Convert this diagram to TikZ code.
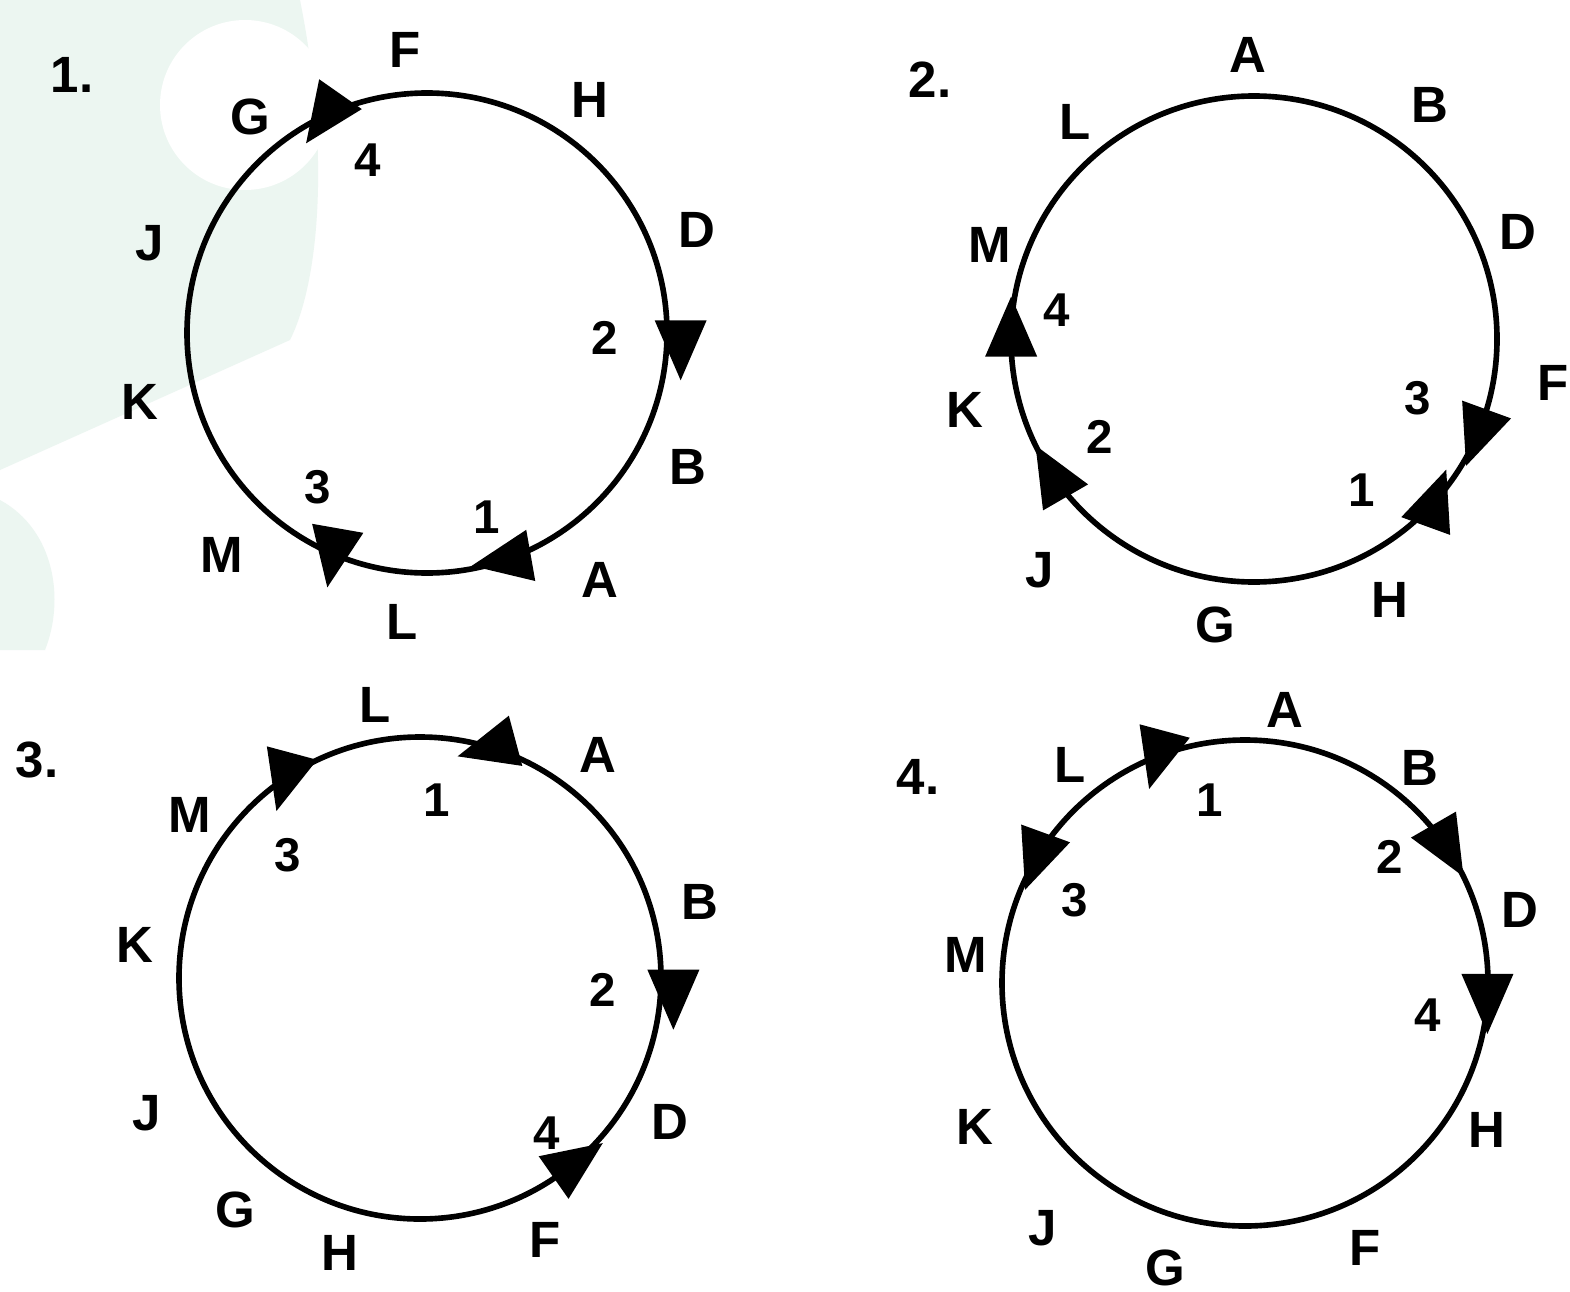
\documentclass[tikz,border=0pt]{standalone}
\usepackage{fontspec}
\setmainfont{Liberation Sans}
\usetikzlibrary{calc}
\definecolor{mint}{HTML}{ECF6F1}
\tikzset{
  lbl/.style={font=\fontsize{14.5}{16}\selectfont\bfseries, inner sep=0pt},
  num/.style={font=\fontsize{13.5}{15}\selectfont\bfseries, inner sep=0pt},
  ring/.style={line width=1.6pt},
  headfill/.style={fill=black}
}
\newcommand{\ahead}[4]{%
  \pgfmathsetmacro{\ahA}{-(#3)}%
  \pgfmathsetmacro{\ahF}{-(#4)}%
  \pgfmathsetmacro{\ahB}{-(#4)+180}%
  \pgfmathsetmacro{\ahL}{-(#4)+90}%
  \pgfmathsetmacro{\ahR}{-(#4)-90}%
  \coordinate (tmp) at ($(#1)+(\ahA:#2)$);
  \fill[headfill] ($(tmp)+(\ahF:34)$) -- ($(tmp)+(\ahB:26)+(\ahL:26)$) -- ($(tmp)+(\ahB:26)+(\ahR:26)$) -- cycle;}
\begin{document}
\begin{tikzpicture}[x=0.01cm,y=-0.01cm]
\useasboundingbox[fill=white] (0,0) rectangle (1570,1291);
% faint watermark
\fill[mint] (0,0) -- (300,0) .. controls (330,150) and (320,280) .. (290,340) -- (0,470) -- cycle;
\fill[white] (245,105) circle (85);
\fill[mint] (0,500) .. controls (55,530) and (65,600) .. (45,650) -- (0,650) -- cycle;

% centres
\coordinate (c1) at (427,333);
\coordinate (c2) at (1254,339);
\coordinate (c3) at (420,978);
\coordinate (c4) at (1245,983);

% circles
\draw[ring] (c1) circle (240);
\draw[ring] (c2) circle (243);
\draw[ring] (c3) circle (241);
\draw[ring] (c4) circle (243);

% arrowheads: centre, radius, position angle, direction angle
\ahead{c1}{240}{115}{235}
\ahead{c1}{254}{-3}{270}
\ahead{c1}{240}{-71}{190}
\ahead{c1}{240}{-113}{260}

\ahead{c2}{243}{178}{90}
\ahead{c2}{243}{214}{120}
\ahead{c2}{243}{-23}{250}
\ahead{c2}{243}{-42}{70}

\ahead{c3}{241}{73}{195}
\ahead{c3}{241}{124}{255}
\ahead{c3}{254}{-4}{270}
\ahead{c3}{241}{-50}{35}

\ahead{c4}{243}{111}{255}
\ahead{c4}{243}{34}{-60}
\ahead{c4}{243}{149}{250}
\ahead{c4}{243}{-4}{270}

% panel 1
\node[lbl] (p1) at (72,75) {1.};
\node[lbl] (p1F) at (405,50) {F};
\node[lbl] (p1H) at (590,100) {H};
\node[lbl] (p1G) at (250,117) {G};
\node[num] (p1n4) at (368,160) {4};
\node[lbl] (p1J) at (150,243) {J};
\node[lbl] (p1D) at (697,230) {D};
\node[num] (p1n2) at (605,338) {2};
\node[lbl] (p1K) at (140,402) {K};
\node[lbl] (p1B) at (688,467) {B};
\node[num] (p1n3) at (318,487) {3};
\node[num] (p1n1) at (487,517) {1};
\node[lbl] (p1M) at (222,555) {M};
\node[lbl] (p1A) at (600,580) {A};
\node[lbl] (p1L) at (402,622) {L};

% panel 2
\node[lbl] (p2) at (930,80) {2.};
\node[lbl] (p2A) at (1248,55) {A};
\node[lbl] (p2B) at (1430,105) {B};
\node[lbl] (p2L) at (1075,122) {L};
\node[lbl] (p2D) at (1518,232) {D};
\node[lbl] (p2M) at (990,245) {M};
\node[num] (p2n4) at (1057,310) {4};
\node[lbl] (p2K) at (965,410) {K};
\node[num] (p2n3) at (1418,398) {3};
\node[lbl] (p2F) at (1553,383) {F};
\node[num] (p2n2) at (1100,437) {2};
\node[num] (p2n1) at (1362,490) {1};
\node[lbl] (p2J) at (1040,570) {J};
\node[lbl] (p2H) at (1390,600) {H};
\node[lbl] (p2G) at (1215,625) {G};

% panel 3
\node[lbl] (p3) at (37,760) {3.};
\node[lbl] (p3L) at (375,705) {L};
\node[lbl] (p3A) at (598,755) {A};
\node[lbl] (p3M) at (190,815) {M};
\node[num] (p3n1) at (437,800) {1};
\node[num] (p3n3) at (288,855) {3};
\node[lbl] (p3B) at (700,902) {B};
\node[lbl] (p3K) at (135,945) {K};
\node[num] (p3n2) at (603,990) {2};
\node[lbl] (p3J) at (147,1113) {J};
\node[num] (p3n4) at (547,1133) {4};
\node[lbl] (p3D) at (670,1122) {D};
\node[lbl] (p3G) at (235,1210) {G};
\node[lbl] (p3H) at (340,1253) {H};
\node[lbl] (p3F) at (545,1240) {F};

% panel 4
\node[lbl] (p4) at (918,777) {4.};
\node[lbl] (p4A) at (1285,710) {A};
\node[lbl] (p4L) at (1070,765) {L};
\node[lbl] (p4B) at (1420,768) {B};
\node[num] (p4n1) at (1210,800) {1};
\node[num] (p4n2) at (1390,857) {2};
\node[num] (p4n3) at (1075,900) {3};
\node[lbl] (p4D) at (1520,910) {D};
\node[lbl] (p4M) at (966,955) {M};
\node[num] (p4n4) at (1428,1015) {4};
\node[lbl] (p4K) at (975,1127) {K};
\node[lbl] (p4H) at (1487,1130) {H};
\node[lbl] (p4J) at (1043,1228) {J};
\node[lbl] (p4G) at (1165,1268) {G};
\node[lbl] (p4F) at (1365,1248) {F};
\end{tikzpicture}
\end{document}
